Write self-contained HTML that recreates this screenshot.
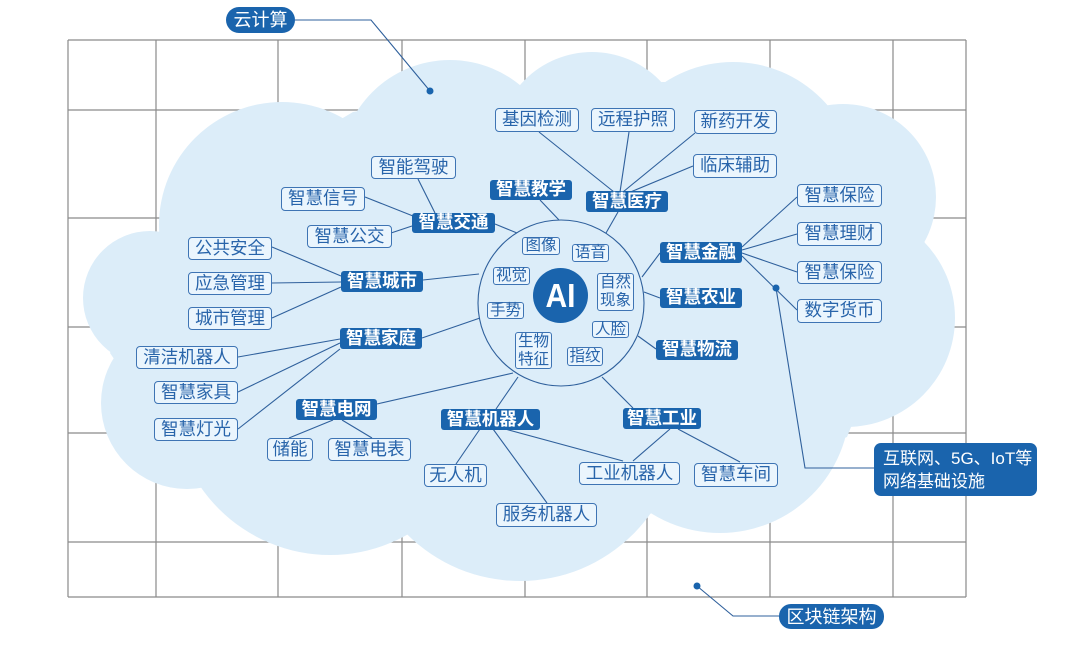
<!DOCTYPE html>
<html><head><meta charset="utf-8"><style>
html,body{margin:0;padding:0;background:#fff;}
body{width:1072px;height:655px;position:relative;overflow:hidden;font-family:"Liberation Sans","Noto Sans CJK SC",sans-serif;}
svg{position:absolute;left:0;top:0;}
.b{position:absolute;display:flex;align-items:center;justify-content:center;box-sizing:border-box;white-space:nowrap;line-height:1;}
.l{background:#eaf5fd;border:1.2px solid #3e74b4;border-radius:4px;color:#2864aa;font-size:17.5px;}
.d{background:#1a64ad;border-radius:3px;color:#fff;font-size:17.5px;font-weight:bold;}
.s{background:#eaf5fd;border:1.1px solid #3e74b4;border-radius:3px;color:#2864aa;font-size:15.5px;line-height:18px;text-align:center;}
.p{background:#1a64ad;color:#fff;font-size:18px;border-radius:14px;}
</style></head><body>
<svg width="1072" height="655" viewBox="0 0 1072 655">
<g stroke="#8a8a8a" stroke-width="1.2" fill="none">
<line x1="68" y1="40" x2="68" y2="597"/><line x1="156" y1="40" x2="156" y2="597"/><line x1="278" y1="40" x2="278" y2="597"/><line x1="402" y1="40" x2="402" y2="597"/><line x1="525" y1="40" x2="525" y2="597"/><line x1="647" y1="40" x2="647" y2="597"/><line x1="770" y1="40" x2="770" y2="597"/><line x1="893" y1="40" x2="893" y2="597"/><line x1="966" y1="40" x2="966" y2="597"/>
<line x1="68" y1="40" x2="966" y2="40"/><line x1="68" y1="110" x2="966" y2="110"/><line x1="68" y1="218" x2="966" y2="218"/><line x1="68" y1="327" x2="966" y2="327"/><line x1="68" y1="433" x2="966" y2="433"/><line x1="68" y1="542" x2="966" y2="542"/><line x1="68" y1="597" x2="966" y2="597"/>
</g>
<g fill="#dcedf9">
<circle cx="450" cy="170" r="110"/><circle cx="592" cy="147" r="95"/><circle cx="733" cy="187" r="125"/><circle cx="843" cy="197" r="93"/><circle cx="846" cy="318" r="109"/><circle cx="720" cy="403" r="130"/><circle cx="520" cy="421" r="160"/><circle cx="330" cy="398" r="157"/><circle cx="187" cy="403" r="86"/><circle cx="150" cy="298" r="67"/><circle cx="282" cy="225" r="123"/>
<polygon points="353,112 520,85 664,82 819,98 925,243 847,437 647,515 403,533 203,490 110,353 170,220"/>
</g>
<g stroke="#2f609c" stroke-width="1.1" fill="none">
<polyline points="295,20 371,20 430,91"/>
<polyline points="697,586 733,616 779,616"/>
<polyline points="776,288 805,468 874,468"/>
<circle cx="561" cy="303" r="83"/>
<line x1="418" y1="179" x2="435" y2="213"/><line x1="365" y1="197" x2="413" y2="216"/><line x1="391" y1="233" x2="412" y2="226"/><line x1="495" y1="224" x2="517" y2="233"/>
<line x1="272" y1="247" x2="341" y2="276"/><line x1="272" y1="283" x2="341" y2="282"/><line x1="272" y1="318" x2="341" y2="287"/><line x1="423" y1="280" x2="479" y2="274"/>
<line x1="238" y1="357" x2="340" y2="339"/><line x1="238" y1="392" x2="340" y2="343"/><line x1="238" y1="429" x2="340" y2="349"/><line x1="422" y1="338" x2="480" y2="318"/>
<line x1="377" y1="404" x2="513" y2="373"/><line x1="289" y1="438" x2="333" y2="420"/><line x1="372" y1="438" x2="342" y2="420"/>
<line x1="496" y1="409" x2="518" y2="377"/><line x1="480" y1="429" x2="456" y2="464"/><line x1="493" y1="429" x2="547" y2="503"/><line x1="505" y1="429" x2="623" y2="461"/>
<line x1="602" y1="377" x2="633" y2="408"/><line x1="670" y1="429" x2="633" y2="461"/><line x1="678" y1="429" x2="740" y2="462"/>
<line x1="540" y1="200" x2="559" y2="220"/>
<line x1="539" y1="132" x2="614" y2="192"/><line x1="629" y1="132" x2="620" y2="192"/><line x1="695" y1="133" x2="623" y2="192"/><line x1="693" y1="166" x2="628" y2="193"/><line x1="618" y1="212" x2="606" y2="233"/>
<line x1="660" y1="253" x2="642" y2="277"/><line x1="742" y1="247" x2="797" y2="197"/><line x1="742" y1="250" x2="797" y2="234"/><line x1="742" y1="253" x2="797" y2="272"/><line x1="742" y1="256" x2="797" y2="310"/>
<line x1="644" y1="292" x2="660" y2="298"/><line x1="638" y1="336" x2="656" y2="349"/>
</g>
<g fill="#1a64ad">
<circle cx="430" cy="91" r="3.5"/><circle cx="697" cy="586" r="3.5"/><circle cx="776" cy="288" r="3.5"/>
<circle cx="560.5" cy="295.5" r="27.5"/>
</g>
<text x="560.5" y="307" fill="#fff" font-family="Liberation Sans, sans-serif" font-weight="bold" font-size="33" text-anchor="middle" textLength="30" lengthAdjust="spacingAndGlyphs">AI</text>
</svg>

<div class="b p" style="left:226px;top:7px;width:69px;height:26px;">云计算</div>
<div class="b p" style="left:779px;top:604px;width:105px;height:25px;border-radius:12px;">区块链架构</div>
<div class="b" style="left:874px;top:443px;width:163px;height:53px;background:#1a64ad;border-radius:7px;color:#fff;font-size:17px;line-height:23px;display:block;padding:4px 0 0 9px;white-space:normal;">互联网、5G、IoT等<br>网络基础设施</div>

<div class="b l" style="left:371px;top:156px;width:85px;height:23px;">智能驾驶</div>
<div class="b l" style="left:281px;top:187px;width:84px;height:24px;">智慧信号</div>
<div class="b l" style="left:307px;top:225px;width:85px;height:23px;">智慧公交</div>
<div class="b l" style="left:188px;top:237px;width:84px;height:23px;">公共安全</div>
<div class="b l" style="left:188px;top:272px;width:84px;height:23px;">应急管理</div>
<div class="b l" style="left:188px;top:307px;width:84px;height:23px;">城市管理</div>
<div class="b l" style="left:495px;top:108px;width:84px;height:24px;">基因检测</div>
<div class="b l" style="left:591px;top:108px;width:84px;height:24px;">远程护照</div>
<div class="b l" style="left:694px;top:110px;width:83px;height:24px;">新药开发</div>
<div class="b l" style="left:693px;top:154px;width:84px;height:24px;">临床辅助</div>
<div class="b l" style="left:797px;top:184px;width:85px;height:23px;">智慧保险</div>
<div class="b l" style="left:797px;top:222px;width:85px;height:24px;">智慧理财</div>
<div class="b l" style="left:797px;top:261px;width:85px;height:23px;">智慧保险</div>
<div class="b l" style="left:797px;top:299px;width:85px;height:24px;">数字货币</div>
<div class="b l" style="left:136px;top:346px;width:102px;height:23px;">清洁机器人</div>
<div class="b l" style="left:154px;top:381px;width:84px;height:23px;">智慧家具</div>
<div class="b l" style="left:154px;top:418px;width:84px;height:23px;">智慧灯光</div>
<div class="b l" style="left:267px;top:438px;width:46px;height:23px;">储能</div>
<div class="b l" style="left:328px;top:438px;width:83px;height:23px;">智慧电表</div>
<div class="b l" style="left:424px;top:464px;width:63px;height:23px;">无人机</div>
<div class="b l" style="left:496px;top:503px;width:101px;height:24px;">服务机器人</div>
<div class="b l" style="left:579px;top:462px;width:101px;height:23px;">工业机器人</div>
<div class="b l" style="left:694px;top:463px;width:84px;height:24px;">智慧车间</div>

<div class="b d" style="left:412px;top:213px;width:83px;height:20px;">智慧交通</div>
<div class="b d" style="left:341px;top:271px;width:82px;height:21px;">智慧城市</div>
<div class="b d" style="left:340px;top:328px;width:82px;height:21px;">智慧家庭</div>
<div class="b d" style="left:296px;top:399px;width:81px;height:21px;">智慧电网</div>
<div class="b d" style="left:441px;top:409px;width:99px;height:21px;">智慧机器人</div>
<div class="b d" style="left:490px;top:180px;width:82px;height:20px;">智慧教学</div>
<div class="b d" style="left:586px;top:191px;width:82px;height:21px;">智慧医疗</div>
<div class="b d" style="left:660px;top:242px;width:82px;height:21px;">智慧金融</div>
<div class="b d" style="left:660px;top:288px;width:82px;height:20px;">智慧农业</div>
<div class="b d" style="left:656px;top:340px;width:82px;height:20px;">智慧物流</div>
<div class="b d" style="left:623px;top:408px;width:78px;height:21px;">智慧工业</div>

<div class="b s" style="left:522px;top:237px;width:38px;height:18px;">图像</div>
<div class="b s" style="left:572px;top:244px;width:37px;height:18px;">语音</div>
<div class="b s" style="left:493px;top:267px;width:37px;height:18px;">视觉</div>
<div class="b s" style="left:597px;top:273px;width:37px;height:38px;">自然<br>现象</div>
<div class="b s" style="left:487px;top:302px;width:37px;height:17px;">手势</div>
<div class="b s" style="left:592px;top:321px;width:37px;height:17px;">人脸</div>
<div class="b s" style="left:515px;top:332px;width:37px;height:37px;">生物<br>特征</div>
<div class="b s" style="left:567px;top:347px;width:36px;height:19px;">指纹</div>
</body></html>
